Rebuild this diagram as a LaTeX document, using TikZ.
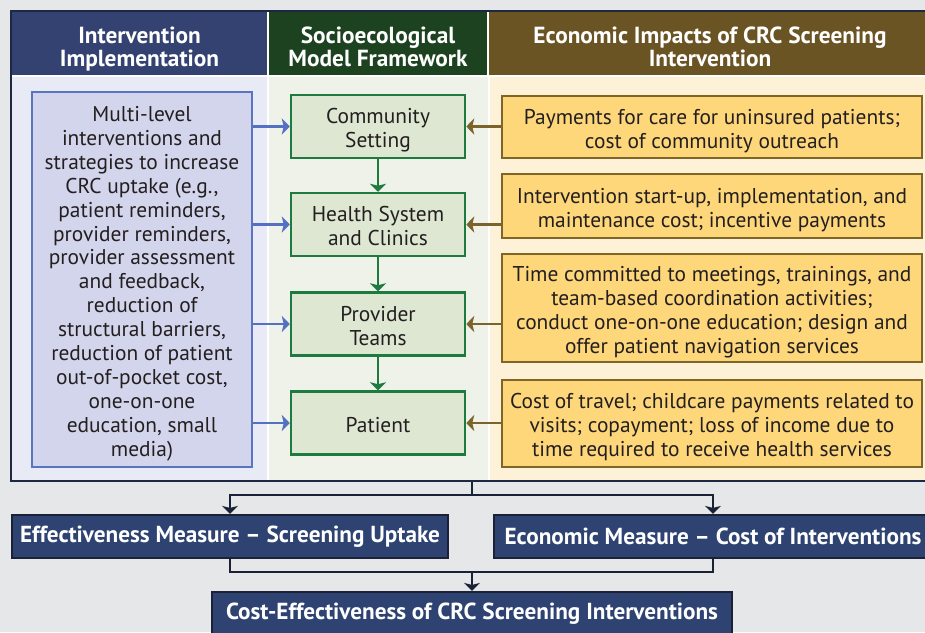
\documentclass[tikz,border=0pt]{standalone}
\usepackage{fontspec}
\setmainfont{PT Sans}
\usetikzlibrary{arrows.meta}
\definecolor{bggray}{HTML}{E6E7E9}
\definecolor{hdrL}{HTML}{344272}
\definecolor{hdrM}{HTML}{1C4220}
\definecolor{hdrR}{HTML}{6B5424}
\definecolor{colL}{HTML}{E8EBF6}
\definecolor{colM}{HTML}{EFF2E8}
\definecolor{colR}{HTML}{FDF1D7}
\definecolor{lfill}{HTML}{D2D5EB}
\definecolor{ldraw}{HTML}{5975BF}
\definecolor{mfill}{HTML}{DDE7D2}
\definecolor{mdraw}{HTML}{1E7B3F}
\definecolor{rfill}{HTML}{FDD77A}
\definecolor{rdraw}{HTML}{7E6528}
\definecolor{barrow}{HTML}{5470C2}
\definecolor{brarrow}{HTML}{7C632B}
\definecolor{garrow}{HTML}{1E7A3E}
\definecolor{navyfill}{HTML}{2E4372}
\definecolor{navydraw}{HTML}{1B2237}
\definecolor{outerdraw}{HTML}{1F2842}
\definecolor{bodytext}{HTML}{231F20}
% vertical struts: first-line top and last-line bottom
\newcommand{\myHdTop}{\rule{0pt}{28.9pt}}
\newcommand{\myHdBot}{\rule[-6.5pt]{0pt}{6.5pt}}
\newcommand{\myBdTop}{\rule{0pt}{25.1pt}}
\newcommand{\myBdBot}{\rule[-6.5pt]{0pt}{6.5pt}}
\tikzset{
  hdrtext/.style={text=white, font=\fontsize{23.3}{22.7}\selectfont\bfseries, align=center, inner sep=0pt},
  body/.style={text=bodytext, font=\fontsize{21.4}{23.9}\selectfont, align=center, inner sep=0pt},
  lbox/.style={body, draw=ldraw, fill=lfill, line width=2.5pt, rectangle},
  mbox/.style={body, draw=mdraw, fill=mfill, line width=2.5pt, rectangle, minimum width=174pt, minimum height=63pt},
  rbox/.style={body, draw=rdraw, fill=rfill, line width=2.8pt, rectangle, minimum width=420pt},
  nbox/.style={draw=navydraw, fill=navyfill, line width=2.2pt, text=white, font=\fontsize{23.2}{24}\selectfont\bfseries, inner sep=0pt, rectangle},
  tip/.style={-{Stealth[width=16pt,length=8pt,inset=2pt]}},
  bluearrow/.style={tip, draw=barrow, line width=2.5pt},
  brownarrow/.style={tip, draw=brarrow, line width=2.5pt},
  greenarrow/.style={tip, draw=garrow, line width=2.5pt},
  navyline/.style={draw=navydraw, line width=2.5pt},
  navyarrow/.style={navyline, tip},
}
\begin{document}
\begin{tikzpicture}[x=1pt,y=-1pt]
\useasboundingbox (0,0) rectangle (925,632);
\fill[bggray] (0,0) rectangle (925,632);
% main frame
\fill[white] (11,11) rectangle (933,481);
\fill[colL] (12,77) rectangle (267,480);
\fill[colM] (269,77) rectangle (488,480);
\fill[colR] (490,77) rectangle (933,480);
\fill[hdrL] (12,12) rectangle (267,75);
\fill[hdrM] (269,12) rectangle (487,75);
\fill[hdrR] (489,12) rectangle (933,75);
\node[draw=outerdraw, line width=2.5pt, minimum width=922pt, minimum height=470pt, inner sep=0pt] (main) at (472,246) {};
% headers
\node[hdrtext] (h1) at (139.5,43.5) {\myHdTop Intervention\\Implementation\myHdBot};
\node[hdrtext] (h2) at (378,43.5) {\myHdTop Socioecological\\Model Framework\myHdBot};
\node[hdrtext] (h3) at (710,43.5) {\myHdTop Economic Impacts of CRC Screening\\Intervention\myHdBot};
% left box
\node[lbox, minimum width=220pt, minimum height=375pt] (L) at (142,279.5) {\myBdTop Multi-level\\interventions and\\strategies to increase\\CRC uptake (e.g.,\\patient reminders,\\provider reminders,\\provider assessment\\and feedback,\\reduction of\\structural barriers,\\reduction of patient\\out-of-pocket cost,\\one-on-one\\education, small\\media)\myBdBot};
% middle boxes
\node[mbox] (C1) at (378,126.5) {\myBdTop Community\\Setting\myBdBot};
\node[mbox] (C2) at (378,224.5) {\myBdTop Health System\\and Clinics\myBdBot};
\node[mbox] (C3) at (378,324) {\myBdTop Provider\\Teams\myBdBot};
\node[mbox] (C4) at (378,423) {\myBdTop Patient\myBdBot};
% right boxes
\node[rbox, minimum height=62pt] (R1) at (712,127) {\myBdTop Payments for care for uninsured patients;\\cost of community outreach\myBdBot};
\node[rbox, minimum height=64pt] (R2) at (712,206) {\myBdTop Intervention start-up, implementation, and\\maintenance cost; incentive payments\myBdBot};
\node[rbox, minimum height=108pt] (R3) at (712,308) {\myBdTop Time committed to meetings, trainings, and\\team-based coordination activities;\\conduct one-on-one education; design and\\offer patient navigation services\myBdBot};
\node[rbox, minimum height=87pt] (R4) at (712,423.5) {\myBdTop Cost of travel; childcare payments related to\\visits; copayment; loss of income due to\\time required to receive health services\myBdBot};
% arrows
\foreach \c in {C1,C2,C3,C4}{
  \draw[bluearrow] (L.east |- \c.west) -- (\c.west);
}
\draw[brownarrow] (R1.west |- C1.east) -- (C1.east);
\draw[brownarrow] (R2.west |- C2.east) -- (C2.east);
\draw[brownarrow] (R3.west |- C3.east) -- (C3.east);
\draw[brownarrow] (R4.west |- C4.east) -- (C4.east);
\draw[greenarrow] (C1.south) -- (C2.north);
\draw[greenarrow] (C2.south) -- (C3.north);
\draw[greenarrow] (C3.south) -- (C4.north);
% bottom
\node[nbox, minimum width=436pt, minimum height=43pt] (E) at (230,536.5) {Effectiveness Measure – Screening Uptake};
\node[nbox, minimum width=438pt, minimum height=43pt] (Ec) at (713,536.5) {Economic Measure – Cost of Interventions};
\node[nbox, minimum width=520pt, minimum height=43pt] (CE) at (472,613.5) {Cost-Effectiveness of CRC Screening Interventions};
\coordinate (j1) at (472,495);
\coordinate (j2) at (472,572);
\draw[navyline] (main.south) -- (j1);
\draw[navyarrow] (j1) -| (E.north);
\draw[navyarrow] (j1) -| (Ec.north);
\draw[navyline] (E.south) |- (j2) -| (Ec.south);
\draw[navyarrow] (j2) -- (CE.north);
\end{tikzpicture}
\end{document}
